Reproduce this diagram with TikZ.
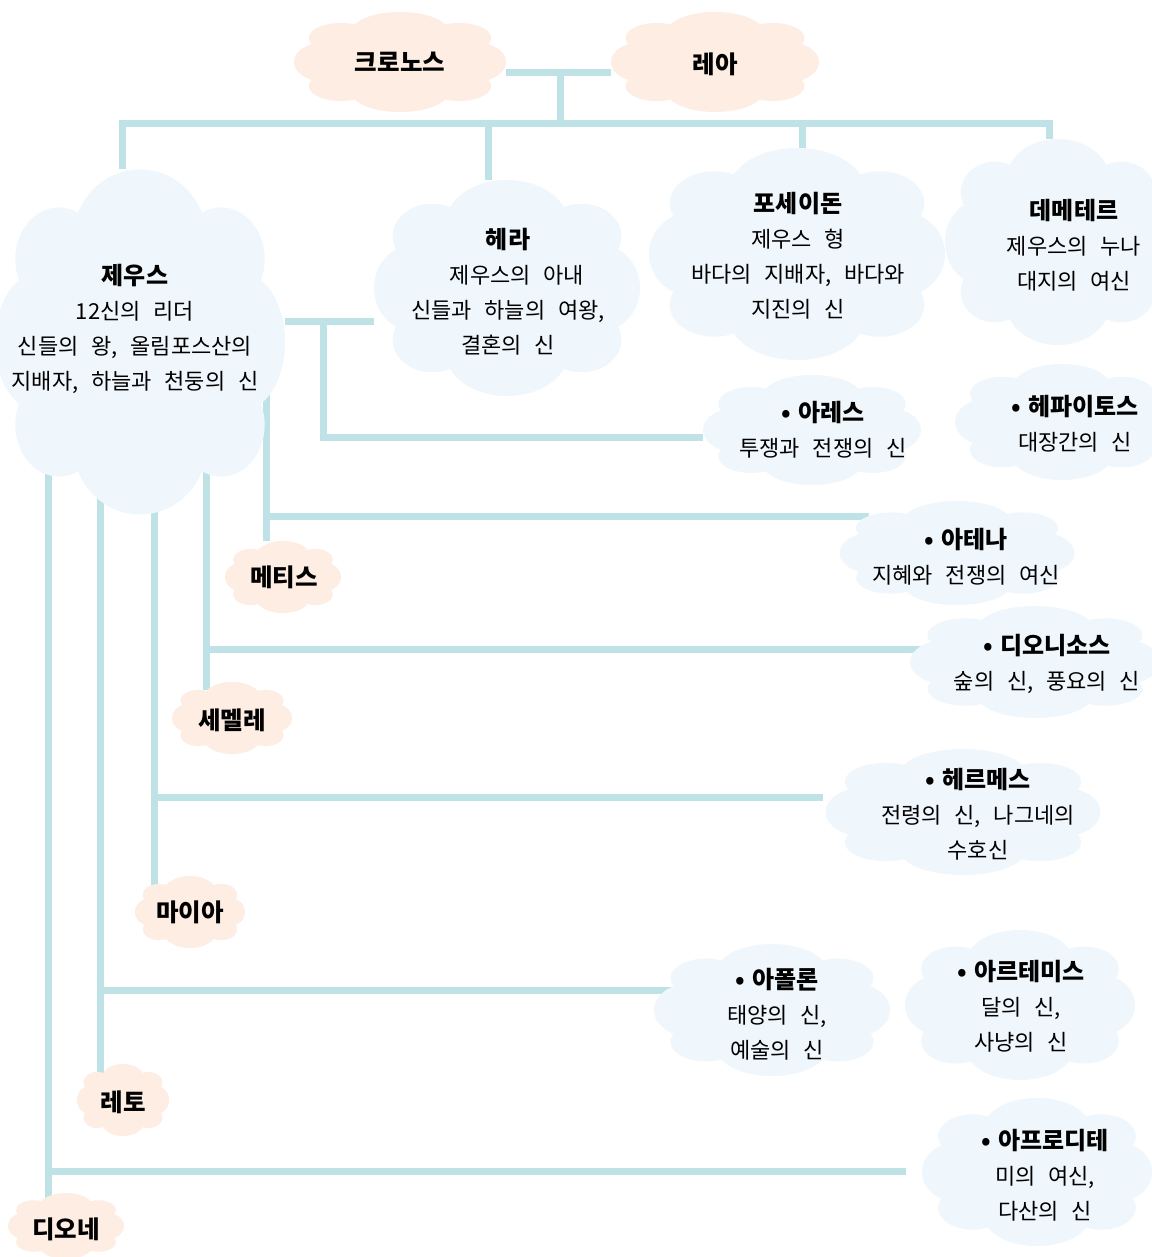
\documentclass[tikz,border=0pt]{standalone}
\usepackage{fontspec}
\newfontfamily\kr[WordSpace=2.6]{Noto Sans CJK KR}
\usetikzlibrary{calc}
\pgfdeclarelayer{bg}
\pgfsetlayers{bg,main}
\definecolor{linec}{RGB}{190,226,230}
\definecolor{peach}{RGB}{253,237,227}
\definecolor{skyb}{RGB}{239,247,252}
\newcommand\godtitle[1]{{\bfseries\fontsize{24}{35}\selectfont #1}}
\newcommand\bul{•\hspace{7pt}}
% cloud: name, x, y, width, height, colour
\newcommand\cloudnode[6]{%
  \begin{scope}[shift={(#2,#3)},xscale=#4/2,yscale=#5/2]
    \fill[#6] (0,0) ellipse [x radius=0.8, y radius=0.72]
      (0,0.6) ellipse [x radius=0.46, y radius=0.4]
      (0,-0.6) ellipse [x radius=0.46, y radius=0.4]
      (0.7,0) ellipse [x radius=0.3, y radius=0.4]
      (-0.7,0) ellipse [x radius=0.3, y radius=0.4]
      (0.56,0.48) ellipse [x radius=0.3, y radius=0.3]
      (-0.56,0.48) ellipse [x radius=0.3, y radius=0.3]
      (0.56,-0.48) ellipse [x radius=0.3, y radius=0.3]
      (-0.56,-0.48) ellipse [x radius=0.3, y radius=0.3];
  \end{scope}
  \node[inner sep=0pt, minimum width=#4pt, minimum height=#5pt] (#1) at (#2,#3) {};%
}
\tikzset{
  link/.style={draw=linec, line width=7pt},
  god/.style={align=center, inner sep=0pt, font=\kr\fontsize{22}{35}\selectfont},
  small/.style={inner sep=0pt, font=\kr\bfseries\fontsize{24.5}{28}\selectfont},
}
\begin{document}
\begin{tikzpicture}[x=1pt, y=-1pt]
\useasboundingbox (0,0) rectangle (1151,1257);

% clouds
\cloudnode{kronos}{400}{62}{212}{100}{peach}
\cloudnode{rhea}{715}{62}{208}{100}{peach}
\cloudnode{zeus}{140}{342}{290}{345}{skyb}
\cloudnode{hera}{507}{288}{266}{216}{skyb}
\cloudnode{poseidon}{797}{254}{296}{212}{skyb}
\cloudnode{demeter}{1058}{242}{226}{206}{skyb}
\cloudnode{ares}{812}{430}{218}{110}{skyb}
\cloudnode{hephaistos}{1062}{422}{214}{116}{skyb}
\cloudnode{athena}{957}{553}{235}{104}{skyb}
\cloudnode{dionysos}{1035}{662}{250}{112}{skyb}
\cloudnode{hermes}{963}{812}{275}{126}{skyb}
\cloudnode{apollo}{772}{1010}{236}{132}{skyb}
\cloudnode{artemis}{1020}{1005}{230}{150}{skyb}
\cloudnode{aphrodite}{1037}{1172}{230}{148}{skyb}
\cloudnode{metis}{283}{577}{116}{72}{peach}
\cloudnode{semele}{232}{718}{120}{72}{peach}
\cloudnode{maia}{190}{912}{110}{72}{peach}
\cloudnode{leto}{123}{1100}{92}{72}{peach}
\cloudnode{dione}{66}{1226}{116}{66}{peach}

% junction coordinates
\coordinate (pjoin) at (560,73);
\coordinate (barL) at (119,124);
\coordinate (barR) at (1053,124);
\coordinate (mj) at (323,321);
\coordinate (athIn) at (869,516);
\coordinate (dioIn) at (930,649);
\coordinate (herIn) at (823,797);
\coordinate (apoIn) at (681,990);
\coordinate (aphIn) at (906,1171);
\coordinate (zA) at (266,342);
\coordinate (zB) at (206,342);
\coordinate (zC) at (154,342);
\coordinate (zD) at (100,342);
\coordinate (zE) at (48,342);

\begin{pgfonlayer}{bg}
  \fill[white] (0,0) rectangle (1151,1257);
  \draw[link] (kronos.east |- pjoin) -- (rhea.west |- pjoin);
  \draw[link] (pjoin) -- (pjoin |- barL);
  \draw[link] (barL) -- (barR);
  \draw[link] ([xshift=-18pt]zeus.north |- barL) -- ([xshift=-18pt]zeus.north);
  \draw[link] ([xshift=-19pt]hera.north |- barL) -- ([xshift=-19pt]hera.north);
  \draw[link] ([xshift=5pt]poseidon.north |- barL) -- ([xshift=5pt]poseidon.north);
  \draw[link] ([xshift=-9pt]demeter.north |- barL) -- ([xshift=-9pt]demeter.north);
  % Zeus and Hera
  \draw[link] (zeus.east |- mj) -- (hera.west |- mj);
  \draw[link] (mj) |- ([yshift=-7pt]ares.west);
  % Metis - Athena
  \draw[link] (zA) -- (zA |- metis.north);
  \draw[link] (zA |- athIn) -- (athIn);
  % Semele - Dionysos
  \draw[link] (zB) -- ([yshift=-8pt]zB |- semele.north);
  \draw[link] (zB |- dioIn) -- (dioIn);
  % Maia - Hermes
  \draw[link] (zC) -- ([yshift=-10pt]zC |- maia.north);
  \draw[link] (zC |- herIn) -- (herIn);
  % Leto - Apollo
  \draw[link] (zD) -- ([yshift=-12pt]zD |- leto.north);
  \draw[link] (zD |- apoIn) -- (apoIn);
  % Dione - Aphrodite
  \draw[link] (zE) -- ([yshift=-6pt]zE |- dione.north);
  \draw[link] (zE |- aphIn) -- (aphIn);
\end{pgfonlayer}

% texts
\node[small] (kronosT) at (400,62) {크로노스};
\node[small] (rheaT) at (715,64) {레아};
\node[god] (zeusT) at (135,329) {\godtitle{제우스}\\12신의 리더\\신들의 왕, 올림포스산의\\지배자, 하늘과 천둥의 신};
\node[god] (heraT) at (508,292) {\godtitle{헤라}\\\hspace{18pt}제우스의 아내\\신들과 하늘의 여왕,\\결혼의 신};
\node[god] (poseidonT) at (798,256) {\godtitle{포세이돈}\\제우스 형\\바다의 지배자, 바다와\\지진의 신};
\node[god] (demeterT) at (1074,245) {\godtitle{데메테르}\\제우스의 누나\\대지의 여신};
\node[god] (aresT) at (823,430) {\godtitle{\bul 아레스}\\투쟁과 전쟁의 신};
\node[god] (hephaistosT) at (1075,424) {\godtitle{\bul 헤파이토스}\\대장간의 신};
\node[god] (athenaT) at (966,557) {\godtitle{\bul 아테나}\\지혜와 전쟁의 여신};
\node[god] (dionysosT) at (1047,664) {\godtitle{\bul 디오니소스}\\숲의 신, 풍요의 신};
\node[god] (hermesT) at (978,814) {\godtitle{\bul 헤르메스}\\전령의 신, 나그네의\\수호신};
\node[god] (apolloT) at (777,1014) {\godtitle{\bul 아폴론}\\태양의 신,\\예술의 신};
\node[god] (artemisT) at (1021,1006) {\godtitle{\bul 아르테미스}\\달의 신,\\사냥의 신};
\node[god] (aphroditeT) at (1045,1175) {\godtitle{\bul 아프로디테}\\미의 여신,\\다산의 신};
\node[small] (metisT) at (284,577) {메티스};
\node[small] (semeleT) at (232,720) {세멜레};
\node[small] (maiaT) at (190,912) {마이아};
\node[small] (letoT) at (123,1102) {레토};
\node[small] (dioneT) at (66,1229) {디오네};
\end{tikzpicture}
\end{document}
